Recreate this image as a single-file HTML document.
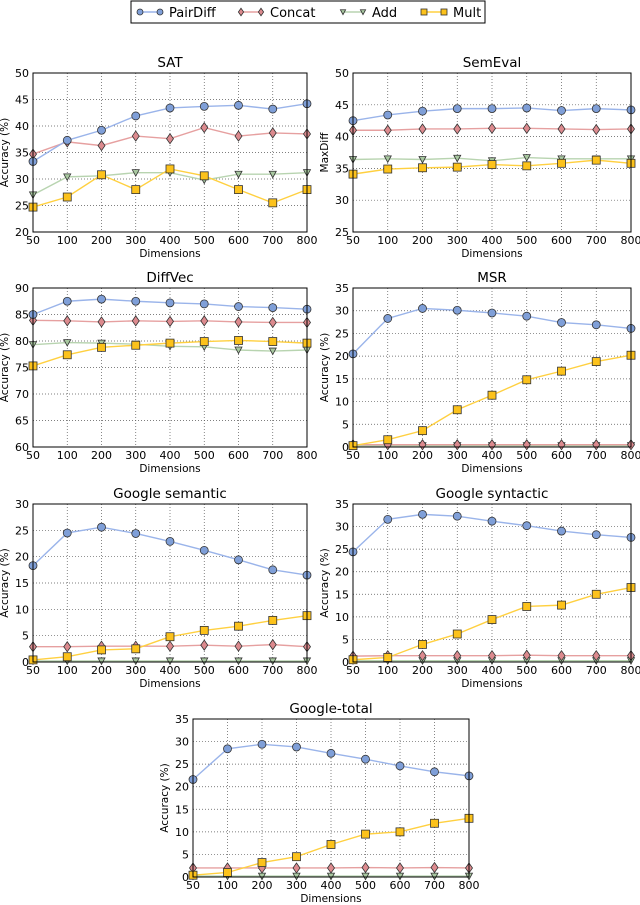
<!DOCTYPE html>
<html><head><meta charset="utf-8"><style>
body{margin:0;background:#fff;}
svg{display:block;font-family:"DejaVu Sans","Liberation Sans",sans-serif;}
</style></head><body>
<svg id="c" width="640" height="905" viewBox="0 0 640 905"></svg>
<script>
const dims=["50","100","200","300","400","500","600","700","800"];
const satPair=[33.3,37.3,39.2,41.9,43.4,43.7,43.9,43.2,44.2];
const satConcat=[34.7,37.0,36.3,38.1,37.6,39.7,38.1,38.7,38.5];
const satAdd=[27.0,30.4,30.6,31.2,31.2,29.8,30.9,30.9,31.2];
const satMult=[24.7,26.6,30.8,28.0,31.9,30.6,28.0,25.5,28.0];
const semPair=[42.5,43.4,44.0,44.4,44.4,44.5,44.1,44.4,44.2];
const semConcat=[41.0,41.0,41.2,41.2,41.3,41.3,41.2,41.1,41.2];
const semAdd=[36.4,36.5,36.4,36.6,36.2,36.7,36.5,36.5,36.5];
const semMult=[34.1,34.9,35.1,35.2,35.6,35.4,35.8,36.3,35.8];
const dvPair=[85.0,87.5,87.9,87.5,87.2,87.0,86.5,86.3,86.0];
const dvConcat=[83.9,83.8,83.6,83.8,83.7,83.8,83.6,83.5,83.5];
const dvAdd=[79.3,79.7,79.6,79.4,79.0,78.9,78.3,78.1,78.3];
const dvMult=[75.3,77.4,78.8,79.2,79.6,79.9,80.1,79.9,79.6];
const msrPair=[20.5,28.3,30.5,30.1,29.5,28.8,27.4,26.9,26.1];
const msrConcat=[0.5,0.5,0.5,0.5,0.5,0.5,0.5,0.5,0.5];
const msrAdd=[0.3,0.3,0.3,0.3,0.3,0.3,0.3,0.3,0.3];
const msrMult=[0.3,1.6,3.6,8.2,11.4,14.8,16.7,18.8,20.2];
const gsemPair=[18.3,24.5,25.6,24.4,22.9,21.2,19.4,17.5,16.5];
const gsemConcat=[2.9,2.9,3.0,3.0,3.0,3.2,3.0,3.3,2.9];
const gsemAdd=[0.2,0.2,0.2,0.2,0.2,0.2,0.2,0.2,0.2];
const gsemMult=[0.4,1.0,2.3,2.5,4.8,6.0,6.8,7.9,8.8];
const gsynPair=[24.4,31.6,32.7,32.3,31.2,30.2,29.0,28.2,27.6];
const gsynConcat=[1.3,1.4,1.4,1.4,1.4,1.5,1.4,1.4,1.4];
const gsynAdd=[0.3,0.3,0.3,0.3,0.3,0.3,0.3,0.3,0.3];
const gsynMult=[0.5,1.0,3.9,6.2,9.4,12.3,12.6,15.0,16.5];
const gtPair=[21.6,28.4,29.4,28.8,27.4,26.1,24.6,23.3,22.4];
const gtConcat=[2.0,2.0,2.0,2.0,2.0,2.1,2.0,2.1,2.0];
const gtAdd=[0.2,0.2,0.2,0.2,0.2,0.2,0.2,0.2,0.2];
const gtMult=[0.4,1.0,3.2,4.5,7.2,9.5,10.0,11.9,13.0];
const seriesNames=["PairDiff","Concat","Add","Mult"];

const NS="http://www.w3.org/2000/svg";
const svg=document.getElementById('c');
const S={PairDiff:{line:"#9ab4ea",fill:"#7f9fd8",m:"o"},Concat:{line:"#e6a0a0",fill:"#dc8a8e",m:"d"},Add:{line:"#b8d4b0",fill:"#a8c8a0",m:"v"},Mult:{line:"#ffd040",fill:"#fcc21b",m:"s"}};
function el(t,a,p){const e=document.createElementNS(NS,t);for(const k in a)e.setAttribute(k,a[k]);(p||svg).appendChild(e);return e;}
function marker(g,m,x,y,c,k){
 k=k||1;
 let e;
 if(m==="o")e=el('circle',{cx:x,cy:y,r:4*k,fill:c,stroke:"#333","stroke-width":0.8},g);
 else if(m==="d")e=el('polygon',{points:`${x},${y-5*k} ${x+3.5*k},${y} ${x},${y+5*k} ${x-3.5*k},${y}`,fill:c,stroke:"#333","stroke-width":0.8},g);
 else if(m==="v")e=el('polygon',{points:`${x-3.5*k},${y-3*k} ${x+3.5*k},${y-3*k} ${x},${y+3.5*k}`,fill:c,stroke:"#333","stroke-width":0.8},g);
 else e=el('rect',{x:x-4*k,y:y-4*k,width:8*k,height:8*k,fill:c,stroke:"#333","stroke-width":0.8},g);
 return e;
}
function chart(id,title,L,R,T,B,ymin,ymax,step,ylabel,data){
 const g=el('g',{});
 
 
 const xs=i=>L+(R-L)*i/(dims.length-1);
 const ys=v=>B-(B-T)*(v-ymin)/(ymax-ymin);
 const t=el('text',{x:(L+R)/2,y:T-6,"text-anchor":"middle","font-size":13.5,fill:"#000"},g);t.textContent=title;
 
 for(let i=0;i<dims.length;i++){
  const x=xs(i);
  el('line',{x1:x,x2:x,y1:T,y2:B,stroke:"#555","stroke-width":0.7,"stroke-dasharray":"1,2"},g);
  const tx=el('text',{x:x,y:B+12,"text-anchor":"middle","font-size":11},g);tx.textContent=dims[i];
  
 }
 for(let v=ymin;v<=ymax+1e-9;v+=step){
  const y=ys(v);
  el('line',{x1:L,x2:R,y1:y,y2:y,stroke:"#555","stroke-width":0.7,"stroke-dasharray":"1,2"},g);
  const ty=el('text',{x:L-4,y:y+4,"text-anchor":"end","font-size":11},g);ty.textContent=v;
  
 }
 const xl=el('text',{x:(L+R)/2,y:B+25,"text-anchor":"middle","font-size":10.5},g);xl.textContent="Dimensions";
 
 const cy=(T+B)/2,cx=L-25;
 const yl=el('text',{x:cx,y:cy,"text-anchor":"middle","font-size":10.5,transform:`rotate(-90 ${cx} ${cy})`},g);yl.textContent=ylabel;
 
 const order=["Add","Concat","PairDiff","Mult"];
 order.forEach(n=>{
  const vals=data[seriesNames.indexOf(n)];
  const pl=el('polyline',{points:vals.map((v,i)=>xs(i)+","+ys(v)).join(" "),fill:"none",stroke:S[n].line,"stroke-width":1.4},g);
  
 });
 order.forEach(n=>{
  const vals=data[seriesNames.indexOf(n)];
  vals.forEach((v,i)=>{const m=marker(g,S[n].m,xs(i),ys(v),S[n].fill);
   });
 });
 el('rect',{x:L,y:T,width:R-L,height:B-T,fill:"none",stroke:"#000","stroke-width":1},g);
}
chart('sat','SAT',33,307,73,232,20,50,5,'Accuracy (%)',[satPair,satConcat,satAdd,satMult]);
chart('semeval','SemEval',353,631,73,232,25,50,5,'MaxDiff',[semPair,semConcat,semAdd,semMult]);
chart('diffvec','DiffVec',33,307,288,447,60,90,5,'Accuracy (%)',[dvPair,dvConcat,dvAdd,dvMult]);
chart('msr','MSR',353,631,288,447,0,35,5,'Accuracy (%)',[msrPair,msrConcat,msrAdd,msrMult]);
chart('google-semantic','Google semantic',33,307,504,662,0,30,5,'Accuracy (%)',[gsemPair,gsemConcat,gsemAdd,gsemMult]);
chart('google-syntactic','Google syntactic',353,631,504,662,0,35,5,'Accuracy (%)',[gsynPair,gsynConcat,gsynAdd,gsynMult]);
chart('google-total','Google-total',193,469,719,877,0,35,5,'Accuracy (%)',[gtPair,gtConcat,gtAdd,gtMult]);

const lg=el('g',{});


el('rect',{x:131,y:1,width:354,height:22,fill:"#fff",stroke:"#000","stroke-width":1},lg);
const lx=[140,241,343,424];
seriesNames.forEach((n,i)=>{
 const x0=lx[i],y0=12;
 el('line',{x1:x0,x2:x0+20,y1:y0,y2:y0,stroke:S[n].line,"stroke-width":1.4},lg);
 marker(lg,S[n].m,x0,y0,S[n].fill,0.75);marker(lg,S[n].m,x0+20,y0,S[n].fill,0.75);
 const t=el('text',{x:x0+29,y:y0+5,"font-size":13},lg);t.textContent=n;
 
 
});
</script>
</body></html>
